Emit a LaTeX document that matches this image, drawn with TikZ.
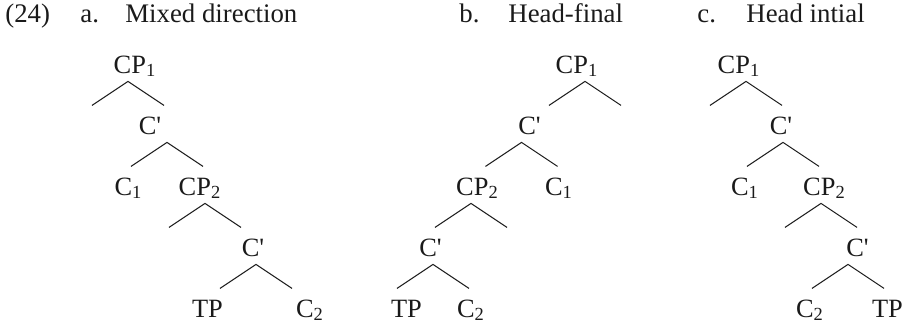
\documentclass[tikz,border=0pt]{standalone}
\usepackage{fontspec}
\setmainfont{Liberation Serif}
\usepackage{tikz}
\usetikzlibrary{calc}
\definecolor{ink}{HTML}{1A1A1A}
\tikzset{
  headtext/.style={anchor=base west,inner sep=0pt,text=ink,font=\fontsize{13.4}{15}\selectfont},
  treelab/.style={anchor=base,inner xsep=0pt,inner ysep=4pt,text depth=0pt,text=ink,font=\fontsize{13.2}{15}\selectfont},
  fork/.style={draw=ink,line width=0.5pt}
}
\newcommand{\cbar}{C\textquotesingle}

\begin{document}
\begin{tikzpicture}[x=0.5pt,y=-0.5pt]
  \useasboundingbox (0,0) rectangle (909,327);
  % headings
  \node[headtext] (ex) at (5,22) {(24)};
  \node[headtext] (alab) at (80,22) {a.};
  \node[headtext] (atitle) at (125,22) {Mixed direction};
  \node[headtext] (blab) at (459,22) {b.};
  \node[headtext] (btitle) at (508,22) {Head-final};
  \node[headtext] (clab) at (697,22) {c.};
  \node[headtext] (ctitle) at (746,22) {Head intial};

  % a. mixed direction
  \node[treelab] (acp1) at (135,73) {CP\textsubscript{1}};
  \node[treelab] (acbar1) at (150,134) {\cbar};
  \node[treelab] (ac1) at (128.5,195) {C\textsubscript{1}};
  \node[treelab] (acp2) at (200,195) {CP\textsubscript{2}};
  \node[treelab] (acbar2) at (253,256) {\cbar};
  \node[treelab] (atp) at (207.5,317) {TP};
  \node[treelab] (ac2) at (310,317) {C\textsubscript{2}};
  \draw[fork] ($(acp1.south)+(-7,0)$) +(-36,24) -- +(0,0) -- +(36,24);
  \draw[fork] ($(acbar1.south)+(17,0)$) +(-36,24) -- +(0,0) -- +(36,24);
  \draw[fork] ($(acp2.south)+(5,0)$) +(-36,24) -- +(0,0) -- +(36,24);
  \draw[fork] ($(acbar2.south)+(3,0)$) +(-36,24) -- +(0,0) -- +(36,24);

  % b. head-final
  \node[treelab] (bcp1) at (577,73) {CP\textsubscript{1}};
  \node[treelab] (bcbar1) at (529.5,134) {\cbar};
  \node[treelab] (bcp2) at (477.5,195) {CP\textsubscript{2}};
  \node[treelab] (bc1) at (559,195) {C\textsubscript{1}};
  \node[treelab] (bcbar2) at (430.5,256) {\cbar};
  \node[treelab] (btp) at (406.5,317) {TP};
  \node[treelab] (bc2) at (471,317) {C\textsubscript{2}};
  \draw[fork] ($(bcp1.south)+(8,0)$) +(-36,24) -- +(0,0) -- +(36,24);
  \draw[fork] ($(bcbar1.south)+(-8,0)$) +(-36,24) -- +(0,0) -- +(36,24);
  \draw[fork] ($(bcp2.south)+(-6.5,0)$) +(-36,24) -- +(0,0) -- +(36,24);
  \draw[fork] ($(bcbar2.south)+(2.5,0)$) +(-36,24) -- +(0,0) -- +(36,24);

  % c. head initial
  \node[treelab] (ccp1) at (739,73) {CP\textsubscript{1}};
  \node[treelab] (ccbar1) at (781,134) {\cbar};
  \node[treelab] (cc1) at (745,195) {C\textsubscript{1}};
  \node[treelab] (ccp2) at (824.5,195) {CP\textsubscript{2}};
  \node[treelab] (ccbar2) at (857.5,256) {\cbar};
  \node[treelab] (cc2) at (810,317) {C\textsubscript{2}};
  \node[treelab] (ctp) at (887.5,317) {TP};
  \draw[fork] ($(ccp1.south)+(7,0)$) +(-36,24) -- +(0,0) -- +(36,24);
  \draw[fork] ($(ccbar1.south)+(2,0)$) +(-36,24) -- +(0,0) -- +(36,24);
  \draw[fork] ($(ccp2.south)+(-3.5,0)$) +(-36,24) -- +(0,0) -- +(36,24);
  \draw[fork] ($(ccbar2.south)+(-9.5,0)$) +(-36,24) -- +(0,0) -- +(36,24);
\end{tikzpicture}
\end{document}
